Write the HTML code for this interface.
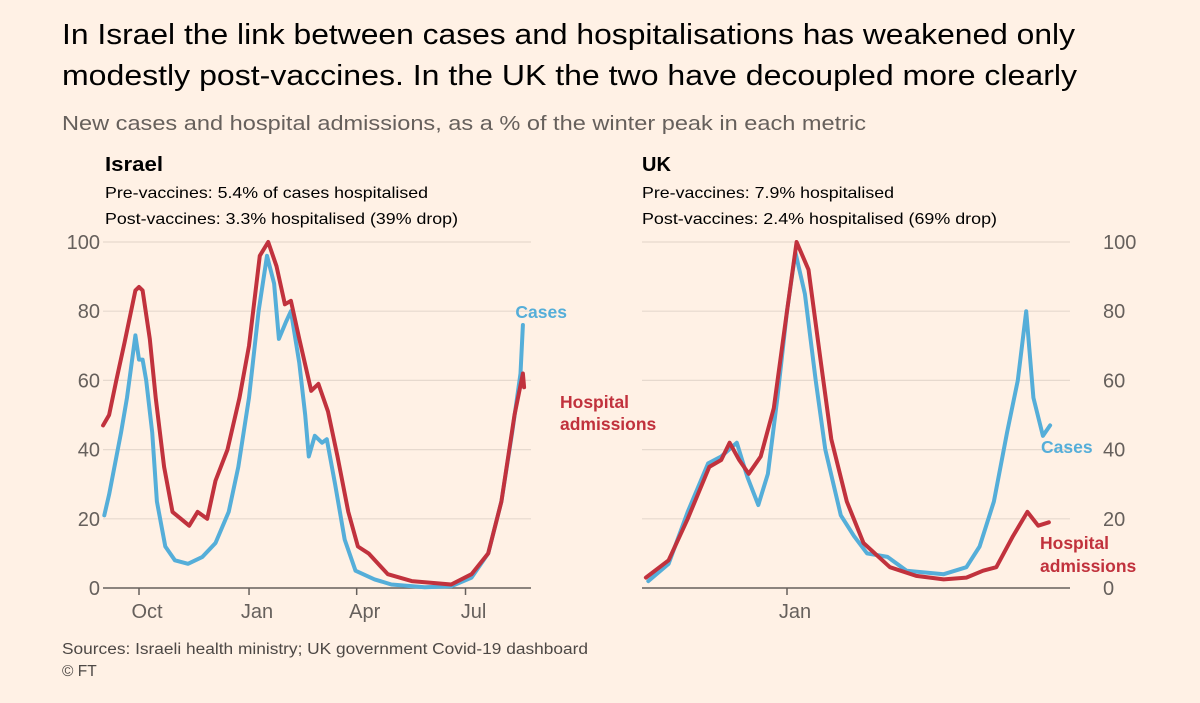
<!DOCTYPE html>
<html><head><meta charset="utf-8"><style>
body{margin:0;background:#fff1e5;font-family:"Liberation Sans",sans-serif;}
svg{display:block}
</style></head><body>
<svg width="1200" height="703" viewBox="0 0 1200 703">
<rect width="1200" height="703" fill="#fff1e5"/>
<text x="62" y="44" font-size="29" fill="#000" textLength="1013" lengthAdjust="spacingAndGlyphs">In Israel the link between cases and hospitalisations has weakened only</text>
<text x="62" y="85" font-size="29" fill="#000" textLength="1015" lengthAdjust="spacingAndGlyphs">modestly post-vaccines. In the UK the two have decoupled more clearly</text>
<text x="62" y="130" font-size="20" fill="#66605c" textLength="804" lengthAdjust="spacingAndGlyphs">New cases and hospital admissions, as a % of the winter peak in each metric</text>
<text x="105" y="171" font-size="20" font-weight="bold" fill="#000" textLength="58" lengthAdjust="spacingAndGlyphs">Israel</text>
<text x="105" y="198" font-size="16" fill="#000" textLength="323" lengthAdjust="spacingAndGlyphs">Pre-vaccines: 5.4% of cases hospitalised</text>
<text x="105" y="224" font-size="16" fill="#000" textLength="353" lengthAdjust="spacingAndGlyphs">Post-vaccines: 3.3% hospitalised (39% drop)</text>
<text x="642" y="171" font-size="20" font-weight="bold" fill="#000">UK</text>
<text x="642" y="198" font-size="16" fill="#000" textLength="252" lengthAdjust="spacingAndGlyphs">Pre-vaccines: 7.9% hospitalised</text>
<text x="642" y="224" font-size="16" fill="#000" textLength="355" lengthAdjust="spacingAndGlyphs">Post-vaccines: 2.4% hospitalised (69% drop)</text>
<g id="isr"></g>
<g id="uk"></g>
<text x="62" y="654" font-size="15.5" fill="#4d4845" textLength="526" lengthAdjust="spacingAndGlyphs">Sources: Israeli health ministry; UK government Covid-19 dashboard</text>
<text x="62" y="676" font-size="15.5" fill="#4d4845">© FT</text>
</svg>
<script>
const yTicks=[0,20,40,60,80,100];
// Israel: days relative to 1 Oct 2020
const isrMonthLabels=["Oct","Jan","Apr","Jul"];
const isrMonthDays=[0,92,182,273];
const isrCaseDays=[-29,-25,-15,-10,-3,0,3,6,11,15,22,30,41,53,64,75,83,92,100,107,113,117,123,127,134,139,142,147,153,157,164,172,181,197,211,239,261,278,292,303,312,319,321];
const isrCaseVals=[21,27,45,55,73,66,66,60,45,25,12,8,7,9,13,22,35,55,80,96,88,72,77,80,65,50,38,44,42,43,30,14,5,2.5,1,0.2,0.5,3,10,25,45,62,76];
const isrHospDays=[-30,-25,-19,-12,-3,0,3,9,14,21,28,35,42,49,57,64,74,84,92,101,108,115,122,127,134,144,150,158,166,175,183,192,208,228,261,278,292,303,314,321,322];
const isrHospVals=[47,50,60,71,86,87,86,72,55,35,22,20,18,22,20,31,40,55,70,96,100,93,82,83,72,57,59,51,38,22,12,10,4,2,1,4,10,25,50,62,58];
// UK: days relative to 1 Jan 2021
const ukMonthLabels=["Jan"];
const ukMonthDays=[0];
const ukCaseDays=[-116,-99,-83,-66,-55,-42,-33,-24,-16,-8,0,7,15,24,32,45,56,67,84,100,131,150,161,173,184,193,200,206,214,220];
const ukCaseVals=[2,7,22,36,38,42,32,24,33,55,80,97,85,60,40,21,15,10,9,5,4,6,12,25,45,60,80,55,44,47];
const ukHospDays=[-118,-99,-83,-65,-55,-48,-40,-32,-22,-11,0,8,18,28,37,50,64,86,108,131,150,164,175,189,201,210,219];
const ukHospVals=[3,8,20,35,37,42,37,33,38,52,80,100,92,66,43,25,13,6,3.5,2.5,3,5,6,15,22,18,19];

const NS="http://www.w3.org/2000/svg";
const Y0=588,Y100=242;
const yScale=v=>Y0-(Y0-Y100)*v/100;
const PXD=1.196;
function mk(tag,attrs,parent){const e=document.createElementNS(NS,tag);for(const k in attrs)e.setAttribute(k,attrs[k]);parent.appendChild(e);return e;}
function panel(g,x0,x1,originX,mDays,mLabels,series,axisRight){
  const xScale=d=>originX+d*PXD;
  yTicks.forEach(t=>{
    if(t>0){const l=mk('line',{x1:x0,x2:x1,y1:yScale(t),y2:yScale(t),stroke:'#e6d9ce','stroke-width':1.2},g);
    
    }
    const tx=mk('text',{x:axisRight?x1+33:x0-3,y:yScale(t)+7,'font-size':20,fill:'#66605c','text-anchor':axisRight?'start':'end'},g);
    tx.textContent=t;
    
    
  });
  const b=mk('line',{x1:x0,x2:x1,y1:Y0,y2:Y0,stroke:'#66605c','stroke-width':1.5},g);
  
  
  mDays.forEach((d,i)=>{
    const x=xScale(d);
    const tk=mk('line',{x1:x,x2:x,y1:Y0,y2:Y0+7,stroke:'#66605c','stroke-width':1.5},g);
    
    
    const tx=mk('text',{x:x+8,y:Y0+30,'font-size':20,fill:'#66605c','text-anchor':'middle'},g);
    tx.textContent=mLabels[i];
    
    
  });
  series.forEach(s=>{
    const d=s.days.map((dd,i)=>(i?'L':'M')+xScale(dd).toFixed(1)+','+yScale(s.vals[i]).toFixed(1)).join('');
    const p=mk('path',{d:d,fill:'none',stroke:s.color,'stroke-width':4,'stroke-linejoin':'round','stroke-linecap':'round'},g);
    
    
  });
}
const CASE='#55aed9',HOSP='#c1323d';
panel(document.getElementById('isr'),103,531,139,isrMonthDays,isrMonthLabels,[
 {days:isrCaseDays,vals:isrCaseVals,color:CASE,name:'israel-cases-line'},
 {days:isrHospDays,vals:isrHospVals,color:HOSP,name:'israel-hospital-line'}],false);
panel(document.getElementById('uk'),642,1070,787,ukMonthDays,ukMonthLabels,[
 {days:ukCaseDays,vals:ukCaseVals,color:CASE,name:'uk-cases-line'},
 {days:ukHospDays,vals:ukHospVals,color:HOSP,name:'uk-hospital-line'}],true);
function lab(txt,x,y,color,name,anchor){const svg=document.querySelector('svg');const t=mk('text',{x:x,y:y,'font-size':17.5,'font-weight':'bold',fill:color,'text-anchor':anchor||'start'},svg);t.textContent=txt;

}
lab('Cases',567,318,CASE,'israel-cases-label','end');
lab('Hospital',560,408,HOSP,'israel-hospital-label-1');
lab('admissions',560,430,HOSP,'israel-hospital-label-2');
lab('Cases',1041,453,CASE,'uk-cases-label');
lab('Hospital',1040,549,HOSP,'uk-hospital-label-1');
lab('admissions',1040,572,HOSP,'uk-hospital-label-2');
</script>
</body></html>
